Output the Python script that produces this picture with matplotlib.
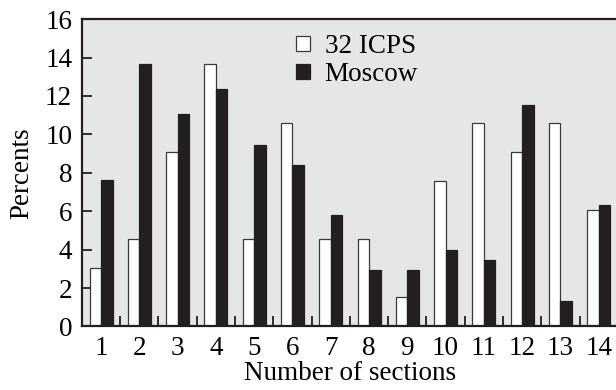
import matplotlib
matplotlib.use("Agg")
import matplotlib.pyplot as plt
import numpy as np

sections = list(range(1, 15))
icps32 = [3.03, 4.55, 9.09, 13.64, 4.55, 10.61, 4.55, 4.55, 1.52, 7.58, 10.61, 9.09, 10.61, 6.06]
moscow = [7.62, 13.64, 11.04, 12.36, 9.43, 8.40, 5.80, 2.93, 2.93, 3.97, 3.45, 11.54, 1.32, 6.32]
yticks = [0, 2, 4, 6, 8, 10, 12, 14, 16]

plt.rcParams['font.family'] = ['Liberation Serif', 'DejaVu Serif']

fig = plt.figure(figsize=(6.16, 3.9), dpi=100)
ax = fig.add_axes([0.133, 0.163, 0.870, 0.788])
ax.set_facecolor('#e5e6e8')

x = np.array(sections)
w = 0.3
ax.bar(x - w / 2, icps32, width=w, color='white', edgecolor='#3a3a3a', linewidth=0.9, label='32 ICPS', zorder=2)
ax.bar(x + w / 2, moscow, width=w, color='#231f20', edgecolor='#231f20', linewidth=0.9, label='Moscow', zorder=2)

ax.set_xlim(0.5, 14.5)
ax.set_ylim(0, 16)
ax.set_yticks(yticks)
ax.set_xticks(sections)
ax.set_xticks(np.arange(1.5, 14.5, 1.0), minor=True)

fs = 19.5
ax.tick_params(axis='x', which='major', length=0, pad=7, labelsize=fs)
ax.tick_params(axis='x', which='minor', direction='in', length=7, width=1.3, color='#231f20')
ax.tick_params(axis='y', which='major', direction='in', length=7, width=1.3, pad=7, labelsize=fs, color='#231f20')

for s in ax.spines.values():
    s.set_linewidth(1.6)
    s.set_color('#231f20')

ax.set_xlabel('Number of sections', fontsize=fs, labelpad=0)
ax.set_ylabel('Percents', fontsize=fs, labelpad=8)

leg = ax.legend(loc='upper left', bbox_to_anchor=(0.372, 1.0), frameon=False, fontsize=fs,
                handlelength=0.5, handleheight=0.5, handletextpad=0.55, labelspacing=0.12,
                borderaxespad=0.15)

fig.savefig('out.png', dpi=100)
